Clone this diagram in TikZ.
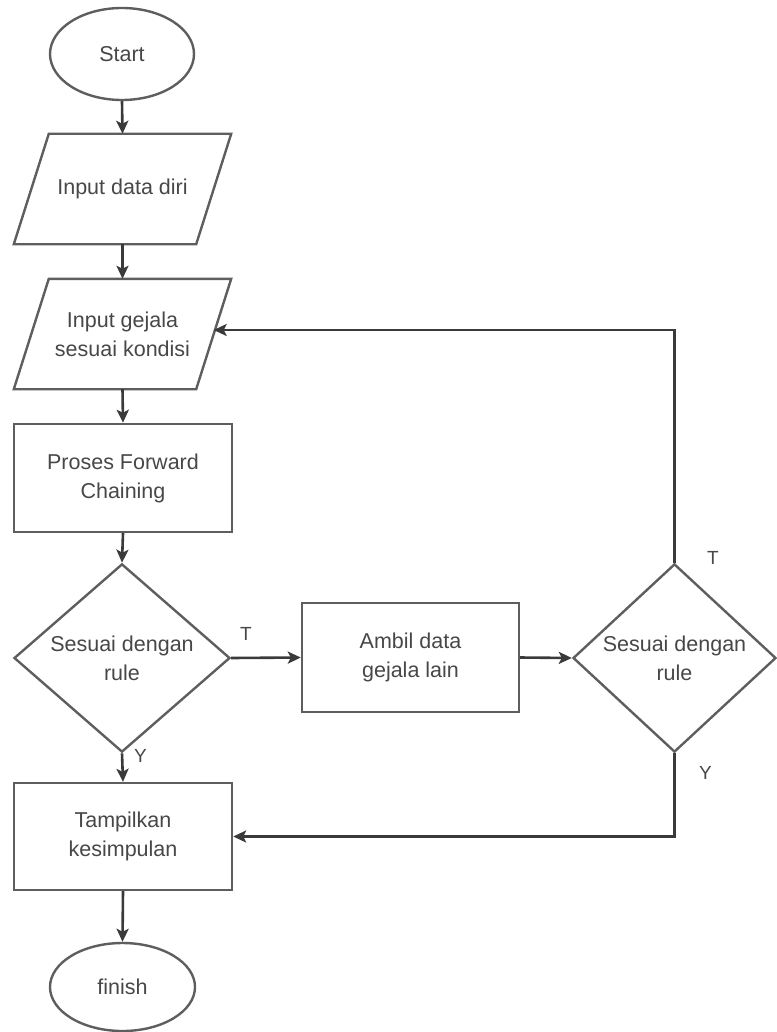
\documentclass[tikz,border=0pt]{standalone}
\usepackage{fontspec}
\setmainfont{Liberation Sans}
\usetikzlibrary{shapes.geometric,arrows.meta}
\definecolor{shapeline}{HTML}{5E5E5E}
\definecolor{connline}{HTML}{3A3A3A}
\definecolor{txtcol}{HTML}{474747}
\tikzset{
  base/.style={draw=shapeline, line width=2.4pt, text=txtcol, inner sep=0pt, align=center,
    font=\fontsize{21.5}{29}\selectfont},
  term/.style={base, ellipse},
  io/.style={base, draw=none, rectangle, minimum width=180pt, minimum height=108pt},
  para/.style={draw=shapeline, line width=2.4pt, line join=miter},
  proc/.style={base, rectangle, minimum width=218pt, minimum height=108pt},
  dec/.style={base, diamond},
  conn/.style={draw=connline, line width=2.6pt, -{Stealth[length=13pt,width=12pt,inset=3pt]}},
  lbl/.style={text=txtcol, inner sep=0pt, font=\fontsize{19}{22}\selectfont}
}
\begin{document}
\begin{tikzpicture}[x=1pt,y=-1pt]
\useasboundingbox (0,0) rectangle (776,1032);
\node[term, minimum width=144pt, minimum height=92pt] (start) at (122,54) {Start};
\node[io] (in1) at (122.5,189) {Input data diri};
\node[io] (in2) at (122.5,334) {Input gejala\\sesuai kondisi};
\foreach \n in {in1,in2}{
  \draw[para] ([xshift=-17.5pt]\n.south west) -- ([xshift=-17.5pt]\n.south east)
    -- ([xshift=17.5pt]\n.north east) -- ([xshift=17.5pt]\n.north west) -- cycle;
}
\node[proc] (pfc) at (123,478) {Proses Forward\\Chaining};
\node[dec, minimum width=216pt, minimum height=179pt] (d1) at (122,658) {Sesuai dengan\\rule};
\node[proc, minimum width=217pt, minimum height=109pt] (r2) at (410.5,657.5) {Ambil data\\gejala lain};
\node[dec, minimum width=203pt, minimum height=177pt] (d2) at (674.5,658) {Sesuai dengan\\rule};
\node[proc, minimum height=107pt] (r3) at (123,836.5) {Tampilkan\\kesimpulan};
\node[term, minimum width=145pt, minimum height=88pt] (fin) at (122.5,987) {finish};

\draw[conn] (start.south) -- (in1.north);
\draw[conn] (in1.south) -- (in2.north);
\draw[conn] (in2.south) -- (pfc.north);
\draw[conn] (pfc.south) -- (d1.north);
\draw[conn] (d1.south) -- (r3.north);
\draw[conn] (r3.south) -- (fin.north);
\draw[conn] (d1.east) -- (r2.west);
\draw[conn] (r2.east) -- (d2.west);
\draw[conn] (d2.north) |- ([yshift=4pt]in2.east);
\draw[conn] (d2.south) |- (r3.east);

\node[lbl, anchor=south west] (lt1) at (240,641) {T};
\node[lbl, anchor=west] (ly1) at (134,756) {Y};
\node[lbl, anchor=west] (lt2) at (707,558) {T};
\node[lbl, anchor=west] (ly2) at (699,773) {Y};
\end{tikzpicture}
\end{document}
